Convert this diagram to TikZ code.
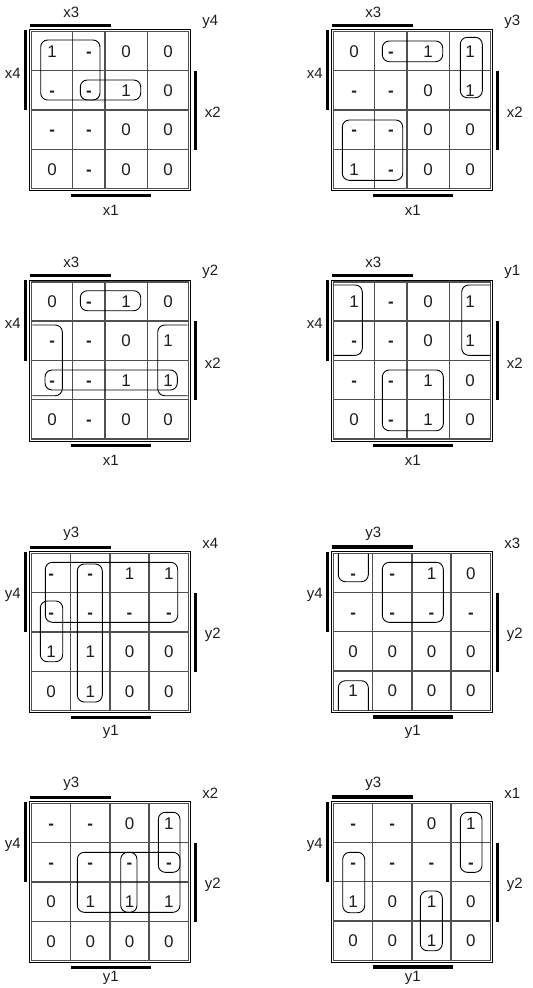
\documentclass[tikz,border=0pt]{standalone}
\usepackage{fontspec}
\setmainfont{Liberation Sans}
\tikzset{
  outerline/.style={draw=black,line width=1bp},
  gridline/.style={draw={rgb,255:red,80;green,80;blue,80},line width=1.3bp},
  bar/.style={draw=black,line width=3.5bp},
  lab/.style={font=\fontsize{15}{18}\selectfont,inner sep=0pt,text={rgb,255:red,30;green,30;blue,30}},
  cell/.style={font=\fontsize{17}{20}\selectfont,inner sep=0pt,anchor=base,text={rgb,255:red,30;green,30;blue,30}},
  grp/.style={draw=black,line width=0.9bp,rounded corners=7bp},
}
\newcommand{\kd}{\textbf{-}}
% grid: ox oy c1 c2 c3
\newcommand{\kframe}[5]{%
  \begin{scope}[shift={(#1,#2)}]
    \draw[outerline] (0,0) rectangle (161,161);
    \draw[gridline] (2,2) rectangle (159,159);
    \draw[gridline] (#3,2) -- (#3,159) (#4,2) -- (#4,159) (#5,2) -- (#5,159);
    \draw[gridline] (2,41) -- (159,41) (2,80.3) -- (159,80.3) (2,119.6) -- (159,119.6);
  \end{scope}}
% labels: name ox oy top left right bottom corner botoff
\newcommand{\klabels}[9]{%
  \begin{scope}[shift={(#2,#3)}]
    \draw[bar] (0,-4.3) -- (81,-4.3);
    \node[lab] (#1top) at (41.5,-17.6) {#4};
    \draw[bar] (-4.3,0) -- (-4.3,80.5);
    \node[lab] (#1left) at (-17,43.5) {#5};
    \draw[bar] (165.6,41) -- (165.6,120.3);
    \node[lab] (#1right) at (183,83) {#6};
    \draw[bar] (41,165.6) -- (121,165.6);
    \node[lab] (#1bot) at (81,#9) {#7};
    \node[lab] (#1corner) at (180.5,-8) {#8};
  \end{scope}}
% values: name ox oy type(A/B) list
\newcommand{\kvals}[5]{%
  \begin{scope}[shift={(#2,#3)}]
    \foreach \v [count=\i from 0] in {#5} {
      \pgfmathtruncatemacro{\r}{int(\i/4)}
      \pgfmathtruncatemacro{\c}{mod(\i,4)}
      \ifx#4A
        \pgfmathsetmacro{\cx}{{22.5,59.2,96.5,138.3}[\c]}
      \else
        \pgfmathsetmacro{\cx}{{21.5,60.6,99.8,139.2}[\c]}
      \fi
      \pgfmathsetmacro{\cy}{{21.5,60.6,100,139.3}[\r]+6.1}
      \node[cell] (#1v\i) at (\cx,\cy) {\v};
    }
  \end{scope}}
\begin{document}
\begin{tikzpicture}[x=1bp,y=-1bp]
\useasboundingbox[fill=white] (0,0) rectangle (533,988);
% Map 1
\kframe{29.7}{29.7}{43}{75.3}{117.6}
\klabels{ma}{29.7}{29.7}{x3}{x4}{x2}{x1}{y4}{180.5}
\kvals{ma}{29.7}{29.7}{A}{1,\kd,0,0,\kd,\kd,1,0,\kd,\kd,0,0,0,\kd,0,0}
\draw[grp] (40.7,40) rectangle (100,100);
\draw[grp] (80.3,80) rectangle (140.7,100);
% Map 2
\kframe{331.7}{29.7}{43}{75.3}{117.6}
\klabels{mb}{331.7}{29.7}{x3}{x4}{x2}{x1}{y3}{180.5}
\kvals{mb}{331.7}{29.7}{A}{0,\kd,1,1,\kd,\kd,0,1,\kd,\kd,0,0,1,\kd,0,0}
\draw[grp] (382.3,41) rectangle (442.7,61.7);
\draw[grp] (460.3,37.3) rectangle (482.3,97.7);
\draw[grp] (342.3,120) rectangle (402.7,180.3);
% Map 3
\kframe{29.7}{280}{43}{75.3}{117.6}
\klabels{mc}{29.7}{280}{x3}{x4}{x2}{x1}{y2}{180.5}
\kvals{mc}{29.7}{280}{A}{0,\kd,1,0,\kd,\kd,0,1,\kd,\kd,1,1,0,\kd,0,0}
\draw[grp] (80.3,290.7) rectangle (140.7,310.7);
\draw[grp] (32.3,325) -- (62.3,325) -- (62.3,395.7) -- (32.3,395.7);
\draw[grp] (187.7,325) -- (157.7,325) -- (157.7,395.7) -- (187.7,395.7);
\draw[grp] (45,370) rectangle (177.3,390);
% Map 4
\kframe{331.7}{280}{43}{75.3}{117.6}
\klabels{md}{331.7}{280}{x3}{x4}{x2}{x1}{y1}{180.5}
\kvals{md}{331.7}{280}{A}{1,\kd,0,1,\kd,\kd,0,1,\kd,\kd,1,0,0,\kd,1,0}
\draw[grp] (333.7,285) -- (362.3,285) -- (362.3,355.3) -- (333.7,355.3);
\draw[grp] (490.7,285) -- (461.7,285) -- (461.7,355.3) -- (490.7,355.3);
\draw[grp] (382.3,370) rectangle (443.3,430.7);
% Map 5
\kframe{29.7}{551.7}{41}{80.3}{119.3}
\klabels{me}{29.7}{551.7}{y3}{y4}{y2}{y1}{x4}{180.5}
\kvals{me}{29.7}{551.7}{B}{\kd,\kd,1,1,\kd,\kd,\kd,\kd,1,1,0,0,0,1,0,0}
\draw[grp] (45.3,562.3) rectangle (177.7,622.3);
\draw[grp] (77.3,564) rectangle (102.3,702);
\draw[grp] (40.3,601) rectangle (62.7,661.7);
% Map 6
\kframe{331.7}{551.5}{41}{80.3}{119.3}
\klabels{mf}{331.7}{551.5}{y3}{y4}{y2}{y1}{x3}{180.5}
\kvals{mf}{331.7}{551.5}{B}{\kd,\kd,1,0,\kd,\kd,\kd,\kd,0,0,0,0,1,0,0,0}
\draw[grp] (338.3,553.5) -- (338.3,581.7) -- (368.3,581.7) -- (368.3,553.5);
\draw[grp] (338.3,710.5) -- (338.3,680.7) -- (368.3,680.7) -- (368.3,710.5);
\draw[grp] (382.3,562.3) rectangle (443.3,622.3);
% Map 7
\kframe{29.7}{801.7}{41}{80.3}{119.3}
\klabels{mg}{29.7}{801.7}{y3}{y4}{y2}{y1}{x2}{176.5}
\kvals{mg}{29.7}{801.7}{B}{\kd,\kd,0,1,\kd,\kd,\kd,\kd,0,1,1,1,0,0,0,0}
\draw[grp] (158.3,812.3) rectangle (180,872.3);
\draw[grp] (77.3,852.3) rectangle (180,912.3);
\draw[grp] (120.7,852.3) rectangle (137,912.3);
% Map 8
\kframe{331.7}{801.5}{41}{80.3}{119.3}
\klabels{mh}{331.7}{801.5}{y3}{y4}{y2}{y1}{x1}{176.5}
\kvals{mh}{331.7}{801.5}{B}{\kd,\kd,0,1,\kd,\kd,\kd,\kd,1,0,1,0,0,0,1,0}
\draw[grp] (460.3,812.3) rectangle (482,872.3);
\draw[grp] (342.7,852.3) rectangle (364.7,912.7);
\draw[grp] (420.3,891) rectangle (442.3,950.7);
\end{tikzpicture}
\end{document}
